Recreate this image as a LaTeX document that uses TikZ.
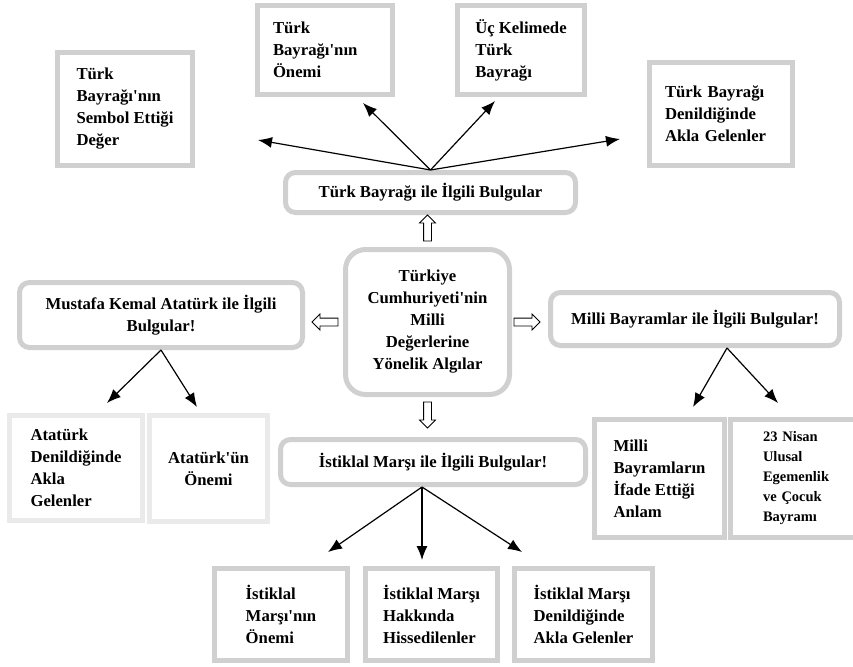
\documentclass[tikz,border=0pt]{standalone}
\usepackage{fontspec}
\setmainfont{Liberation Serif}[Ligatures=TeXOff]
\usetikzlibrary{arrows.meta,shapes.arrows}
\definecolor{boxgray}{RGB}{208,208,208}
\definecolor{softgray}{RGB}{234,234,234}

\begin{document}
\begin{tikzpicture}[x=1pt,y=-1pt,
  main node/.style={draw=boxgray,line width=5pt,align=left,inner sep=0pt,
    font=\bfseries\fontsize{16.7}{22}\selectfont},
  round node/.style={main node,align=center,rounded corners=10pt},
  soft node/.style={main node,draw=softgray},
  block arrow/.style={single arrow,draw,fill=white,line width=0.8pt,
    minimum height=26pt,minimum width=15pt,inner sep=3.5pt,single arrow head extend=4pt},
  link/.style={-{Latex[length=14pt,width=11pt]},line width=1.2pt}]

  \useasboundingbox (0,0) rectangle (853,666);

  % center
  \node[round node,rounded corners=20pt,minimum width=164pt,minimum height=145pt] (merkez) at (427.5,322)
    {Türkiye\\Cumhuriyeti'nin\\Milli\\Değerlerine\\Yönelik Algılar};

  % flag
  \node[round node,minimum width=290pt,minimum height=40pt] (bayrak) at (430.5,192.5) {Türk Bayrağı ile İlgili Bulgular};
  \node[main node,minimum width=135pt,minimum height=113pt] (sembol) at (125,109) {Türk\\Bayrağı'nın\\Sembol Ettiği\\Değer};
  \node[main node,minimum width=135pt,minimum height=89pt,text width=104pt,inner xsep=15.5pt] (onem) at (325,50) {Türk\\Bayrağı'nın\\Önemi};
  \node[main node,minimum width=127pt,minimum height=89pt] (ucKelime) at (521,50) {Üç Kelimede\\Türk\\Bayrağı};
  \node[main node,minimum width=143pt,minimum height=103pt,text width=112pt,inner xsep=15.5pt] (bayrakAkla) at (721,114) {Türk Bayrağı\\Denildiğinde\\Akla Gelenler};

  % ataturk
  \node[round node,minimum width=283pt,minimum height=65pt] (mustafa) at (161,315) {Mustafa Kemal Atatürk ile İlgili\\Bulgular!};
  \node[soft node,minimum width=133pt,minimum height=105pt] (atAkla) at (76,468) {Atatürk\\Denildiğinde\\Akla\\Gelenler};
  \node[soft node,align=center,minimum width=118pt,minimum height=106pt] (atOnem) at (208.5,468.5) {Atatürk'ün\\Önemi};

  % bayramlar
  \node[round node,minimum width=289pt,minimum height=53pt] (bayram) at (695,319) {Milli Bayramlar ile İlgili Bulgular!};
  \node[main node,minimum width=130pt,minimum height=118pt] (anlam) at (659.5,478.5) {Milli\\Bayramların\\İfade Ettiği\\Anlam};
  \node[main node,minimum height=118pt,text width=80pt,inner xsep=32.5pt,
    font=\bfseries\fontsize{14.5}{20}\selectfont] (nisan) at (803,478.5) {23 Nisan\\Ulusal\\Egemenlik\\ve Çocuk\\Bayramı};

  % istiklal marsi
  \node[round node,minimum width=305pt,minimum height=45pt] (istiklal) at (433,462) {İstiklal Marşı ile İlgili Bulgular!};
  \node[main node,minimum width=133pt,minimum height=92pt] (marsOnem) at (281,614.5) {İstiklal\\Marşı'nın\\Önemi};
  \node[main node,minimum width=132pt,minimum height=92pt] (marsHis) at (431.5,614.5) {İstiklal Marşı\\Hakkında\\Hissedilenler};
  \node[main node,minimum width=138pt,minimum height=92pt] (marsAkla) at (583.5,614.5) {İstiklal Marşı\\Denildiğinde\\Akla Gelenler};

  % hollow arrows
  \node[block arrow,shape border rotate=90] (okUst) at ([yshift=17pt]merkez.north) {};
  \node[block arrow,shape border rotate=180] (okSol) at ([xshift=-16pt]merkez.west) {};
  \node[block arrow,shape border rotate=0] (okSag) at ([xshift=13pt]merkez.east) {};
  \node[block arrow,shape border rotate=270] (okAlt) at ([yshift=-16pt]merkez.south) {};

  \coordinate (u1) at (258,140);
  \coordinate (u2) at (363,103);
  \coordinate (u3) at (495,101);
  \coordinate (u4) at (620,139);
  \coordinate (m1) at (107,403);
  \coordinate (m2) at (197,407);
  \coordinate (b1) at (693,407);
  \coordinate (b2) at (778,403);
  \coordinate (i1) at (328,552);
  \coordinate (i2) at (422,560);
  \coordinate (i3) at (522,552);

  \path[link]
   (bayrak.north) edge (u1) edge (u2) edge (u3) edge (u4)
   (mustafa.south) edge (m1) edge (m2)
   ([xshift=32pt]bayram.south) edge (b1) edge (b2)
   ([xshift=-11pt]istiklal.south) edge (i1) edge (i2) edge (i3);
\end{tikzpicture}
\end{document}
